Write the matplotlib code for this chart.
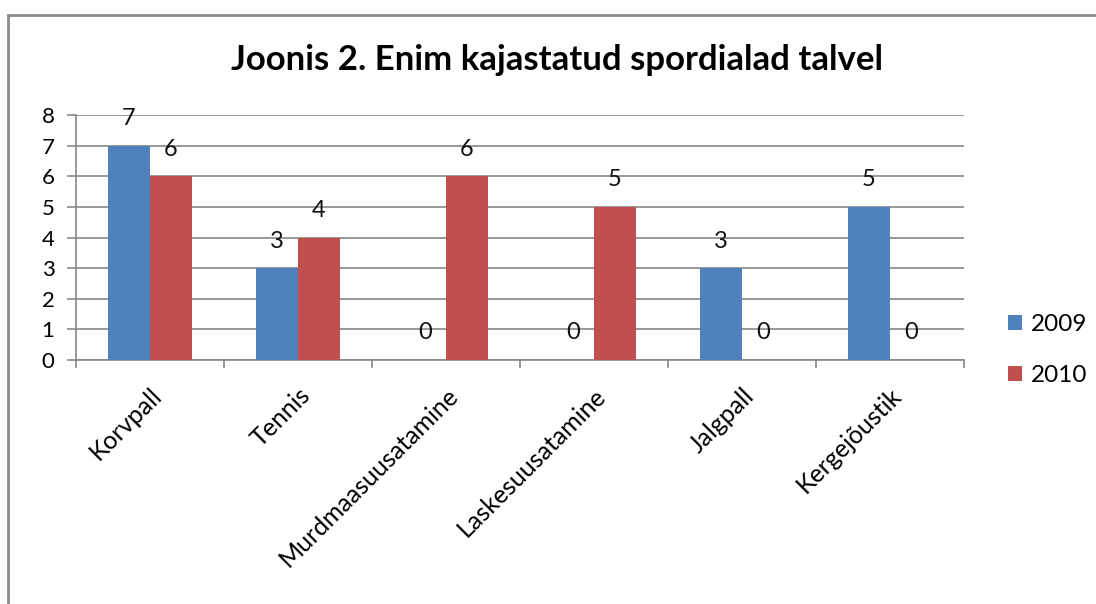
import matplotlib.pyplot as plt
import numpy as np
from matplotlib.patches import Rectangle

categories = ["Korvpall", "Tennis", "Murdmaasuusatamine", "Laskesuusatamine", "Jalgpall", "Kergejõustik"]
series_names = ["2009", "2010"]
values_2009 = [7, 3, 0, 0, 3, 5]
values_2010 = [6, 4, 6, 5, 0, 0]
y_ticks = [0, 1, 2, 3, 4, 5, 6, 7, 8]

BLUE = "#4F81BD"
RED = "#C0504D"
GRID = "#888888"

plt.rcParams["font.family"] = ["Lato", "DejaVu Sans"]

fig = plt.figure(figsize=(10.96, 6.04), dpi=100)
ax = fig.add_axes([76 / 1096, 1 - 360 / 604, (964 - 76) / 1096, (360 - 115) / 604])

# outer chart border, cut off on right and bottom like the source
fig.patches.append(Rectangle((8 / 1096, -0.1), 1.2, 1.1 - 15 / 604, transform=fig.transFigure,
                             fill=False, edgecolor="#8a8a8a", lw=2.0))

x = np.arange(len(categories))
w = 0.284
b1 = ax.bar(x - w / 2, values_2009, w, color=BLUE, label=series_names[0], zorder=3)
b2 = ax.bar(x + w / 2, values_2010, w, color=RED, label=series_names[1], zorder=3)

for bars, vals in ((b1, values_2009), (b2, values_2010)):
    for rect, v in zip(bars, vals):
        ax.annotate(str(v), (rect.get_x() + rect.get_width() / 2, v),
                    xytext=(0, 19.5), textcoords="offset points",
                    ha="center", va="center", fontsize=17, color="#111111", zorder=4)

ax.set_xlim(-0.5, len(categories) - 0.5)
ax.set_ylim(0, 8)
ax.set_yticks(y_ticks)
ax.tick_params(axis="y", length=6.5, width=1.2, color=GRID, labelsize=16, pad=9)
ax.yaxis.grid(True, color=GRID, lw=1.2, zorder=0)

ax.set_xticks(x)
ax.set_xticklabels(categories, rotation=45, ha="right", va="top", rotation_mode="anchor", fontsize=18)
ax.tick_params(axis="x", length=0, pad=17)
ax.set_xticks(np.arange(len(categories) + 1) - 0.5, minor=True)
ax.tick_params(axis="x", which="minor", length=6, width=1.2, color=GRID)

for s in ("top", "right"):
    ax.spines[s].set_visible(False)
for s in ("left", "bottom"):
    ax.spines[s].set_color(GRID)
    ax.spines[s].set_linewidth(1.2)

fig.text(557 / 1096, 1 - 60 / 604, "Joonis 2. Enim kajastatud spordialad talvel",
         ha="center", va="center", fontsize=25, fontweight="bold")

fig.legend(handles=[b1, b2], labels=series_names, loc="upper left",
           bbox_to_anchor=(986 / 1096, 1 - 292 / 604), frameon=False, fontsize=17.5,
           handlelength=0.6, handleheight=0.6, handletextpad=0.35, labelspacing=1.25)

fig.savefig("out.png", dpi=100)
